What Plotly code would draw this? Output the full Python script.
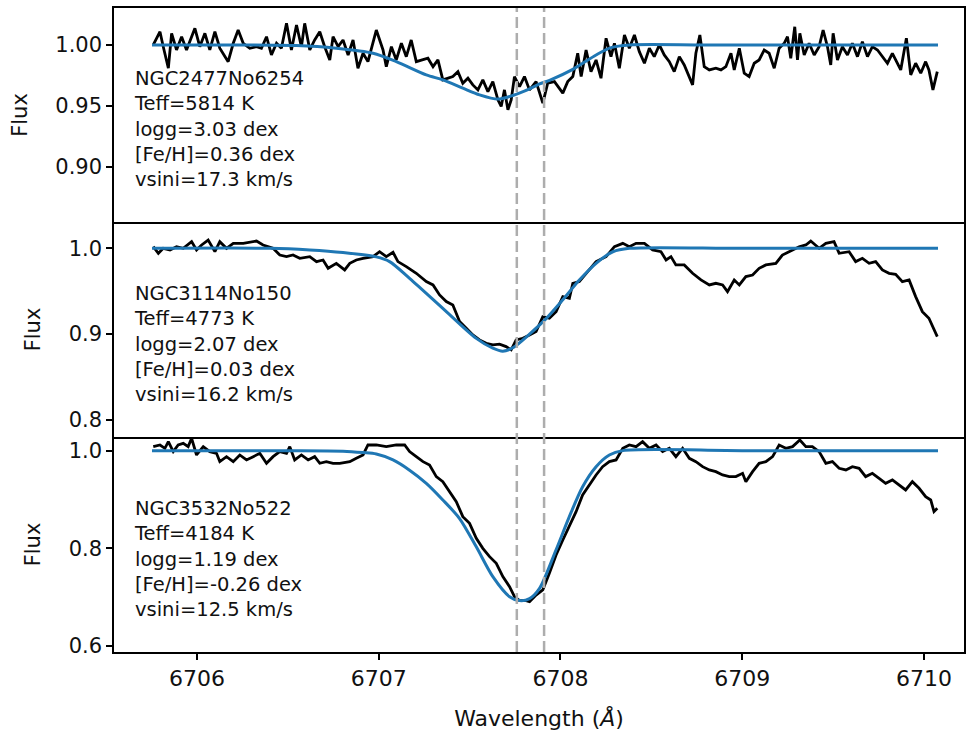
import plotly.graph_objects as go
from plotly.subplots import make_subplots

# ---------------- data ----------------
star_names = ["NGC2477No6254", "NGC3114No150", "NGC3532No522"]
teff = [5814, 4773, 4184]
logg = [3.03, 2.07, 1.19]
feh = [0.36, 0.03, -0.26]
vsini = [17.3, 16.2, 12.5]
li_lines = [6707.76, 6707.91]
x_ticks = [6706, 6707, 6708, 6709, 6710]
y_ticks_top = [0.90, 0.95, 1.00]
y_ticks_mid = [0.8, 0.9, 1.0]
y_ticks_bot = [0.6, 0.8, 1.0]

# NGC2477No6254 observed
wl_obs_1 = [6705.760, 6705.797, 6705.815, 6705.843, 6705.861, 6705.888, 6705.916, 6705.943, 6705.971, 6705.989,
            6706.016, 6706.044, 6706.071, 6706.099, 6706.126, 6706.172, 6706.200, 6706.227, 6706.255, 6706.291,
            6706.328, 6706.355, 6706.383, 6706.410, 6706.438, 6706.465, 6706.493, 6706.520, 6706.548, 6706.575,
            6706.593, 6706.621, 6706.648, 6706.676, 6706.703, 6706.731, 6706.749, 6706.777, 6706.804, 6706.832,
            6706.859, 6706.886, 6706.914, 6706.941, 6706.987, 6707.024, 6707.042, 6707.070, 6707.097, 6707.125,
            6707.152, 6707.179, 6707.207, 6707.244, 6707.271, 6707.299, 6707.326, 6707.353, 6707.381, 6707.408,
            6707.436, 6707.463, 6707.491, 6707.518, 6707.546, 6707.573, 6707.601, 6707.628, 6707.656, 6707.674,
            6707.692, 6707.711, 6707.729, 6707.747, 6707.775, 6707.802, 6707.830, 6707.866, 6707.903, 6707.930,
            6707.967, 6708.013, 6708.040, 6708.068, 6708.095, 6708.114, 6708.141, 6708.168, 6708.196, 6708.223,
            6708.251, 6708.278, 6708.297, 6708.324, 6708.352, 6708.379, 6708.407, 6708.434, 6708.462, 6708.489,
            6708.516, 6708.544, 6708.571, 6708.599, 6708.626, 6708.654, 6708.681, 6708.709, 6708.727, 6708.745,
            6708.767, 6708.791, 6708.819, 6708.855, 6708.883, 6708.910, 6708.938, 6708.956, 6708.984, 6709.011,
            6709.038, 6709.066, 6709.093, 6709.121, 6709.148, 6709.176, 6709.203, 6709.231, 6709.249, 6709.267,
            6709.289, 6709.304, 6709.317, 6709.341, 6709.368, 6709.396, 6709.423, 6709.445, 6709.469, 6709.487,
            6709.500, 6709.524, 6709.551, 6709.579, 6709.606, 6709.634, 6709.661, 6709.689, 6709.716, 6709.744,
            6709.771, 6709.799, 6709.826, 6709.853, 6709.872, 6709.903, 6709.927, 6709.954, 6709.982, 6710.009,
            6710.027, 6710.049, 6710.073]
fl_obs_1 = [1.0000, 1.0109, 0.9986, 0.9809, 1.0096, 0.9959, 1.0068, 0.9959, 1.0068, 1.0137,
            0.9986, 1.0096, 0.9959, 1.0109, 0.9973, 0.9863, 1.0014, 1.0123, 1.0014, 0.9973,
            0.9986, 0.9973, 1.0068, 0.9918, 1.0014, 0.9973, 1.0178, 0.9959, 1.0164, 0.9986,
            1.0178, 0.9959, 1.0041, 1.0109, 0.9986, 0.9877, 1.0068, 0.9986, 1.0041, 0.9918,
            1.0041, 0.9809, 0.9932, 0.9863, 1.0123, 0.9959, 0.9822, 0.9986, 0.9877, 1.0014,
            0.9904, 1.0041, 0.9863, 0.9877, 0.9891, 0.9822, 0.9877, 0.9713, 0.9727, 0.9740,
            0.9781, 0.9686, 0.9727, 0.9672, 0.9631, 0.9713, 0.9617, 0.9699, 0.9549, 0.9495,
            0.9631, 0.9467, 0.9549, 0.9740, 0.9658, 0.9740, 0.9631, 0.9699, 0.9522, 0.9686,
            0.9699, 0.9604, 0.9699, 0.9740, 0.9932, 0.9740, 0.9959, 0.9781, 0.9877, 0.9727,
            1.0055, 0.9904, 1.0014, 0.9809, 1.0082, 0.9973, 1.0082, 0.9945, 0.9850, 0.9973,
            0.9904, 1.0000, 0.9918, 0.9863, 0.9781, 0.9904, 0.9836, 0.9727, 0.9672, 0.9932,
            1.0082, 0.9822, 0.9795, 0.9809, 0.9795, 0.9822, 0.9932, 0.9795, 0.9973, 0.9768,
            0.9740, 0.9850, 0.9877, 0.9959, 0.9932, 0.9809, 0.9973, 1.0014, 1.0068, 0.9891,
            1.0150, 0.9877, 1.0096, 0.9918, 1.0014, 0.9918, 0.9986, 1.0123, 0.9986, 0.9836,
            1.0096, 0.9877, 0.9986, 0.9918, 1.0014, 0.9904, 1.0027, 0.9904, 0.9986, 0.9959,
            0.9904, 0.9850, 0.9932, 0.9850, 0.9795, 1.0055, 0.9754, 0.9850, 0.9768, 0.9863,
            0.9795, 0.9631, 0.9781]
# NGC2477No6254 model
wl_mod_1 = [6705.753, 6706.200, 6706.548, 6706.767, 6706.969, 6707.097, 6707.262, 6707.353, 6707.463, 6707.555,
            6707.656, 6707.738, 6707.830, 6707.885, 6707.940, 6708.068, 6708.196, 6708.278, 6708.380, 6708.800,
            6709.500, 6710.077]
fl_mod_1 = [1.0000, 1.0000, 0.9995, 0.9973, 0.9932, 0.9863, 0.9754, 0.9713, 0.9645, 0.9590,
            0.9555, 0.9585, 0.9640, 0.9680, 0.9710, 0.9800, 0.9918, 0.9978, 1.0000, 1.0000,
            1.0000, 1.0000]

# NGC3114No150 observed
wl_obs_2 = [6705.760, 6705.788, 6705.815, 6705.852, 6705.888, 6705.925, 6705.971, 6705.998, 6706.026, 6706.062,
            6706.099, 6706.126, 6706.163, 6706.200, 6706.255, 6706.328, 6706.364, 6706.419, 6706.456, 6706.493,
            6706.529, 6706.566, 6706.621, 6706.658, 6706.694, 6706.722, 6706.767, 6706.813, 6706.841, 6706.877,
            6706.914, 6706.969, 6707.005, 6707.042, 6707.079, 6707.106, 6707.152, 6707.207, 6707.262, 6707.299,
            6707.335, 6707.372, 6707.408, 6707.445, 6707.482, 6707.518, 6707.555, 6707.592, 6707.628, 6707.665,
            6707.701, 6707.729, 6707.756, 6707.793, 6707.830, 6707.866, 6707.903, 6707.939, 6707.976, 6708.013,
            6708.049, 6708.068, 6708.104, 6708.141, 6708.196, 6708.251, 6708.297, 6708.343, 6708.379, 6708.416,
            6708.462, 6708.507, 6708.553, 6708.581, 6708.608, 6708.635, 6708.681, 6708.727, 6708.773, 6708.819,
            6708.855, 6708.892, 6708.919, 6708.956, 6708.984, 6709.020, 6709.057, 6709.093, 6709.130, 6709.185,
            6709.221, 6709.277, 6709.313, 6709.350, 6709.377, 6709.423, 6709.460, 6709.505, 6709.533, 6709.588,
            6709.624, 6709.661, 6709.698, 6709.734, 6709.771, 6709.808, 6709.844, 6709.881, 6709.918, 6709.954,
            6709.991, 6710.027, 6710.073]
fl_obs_2 = [1.0019, 0.9942, 1.0000, 0.9981, 1.0019, 1.0000, 1.0078, 0.9981, 1.0039, 1.0097,
            0.9961, 1.0078, 1.0000, 1.0058, 1.0058, 1.0085, 1.0039, 1.0000, 0.9922, 0.9903,
            0.9922, 0.9883, 0.9903, 0.9845, 0.9864, 0.9767, 0.9825, 0.9748, 0.9825, 0.9864,
            0.9883, 0.9903, 0.9961, 0.9903, 0.9953, 0.9845, 0.9786, 0.9709, 0.9612, 0.9573,
            0.9456, 0.9379, 0.9340, 0.9146, 0.9068, 0.8990, 0.8932, 0.8893, 0.8874, 0.8882,
            0.8854, 0.8816, 0.8932, 0.8951, 0.8990, 0.9029, 0.9204, 0.9184, 0.9262, 0.9437,
            0.9417, 0.9592, 0.9612, 0.9709, 0.9845, 0.9903, 1.0019, 1.0058, 1.0019, 1.0058,
            1.0058, 0.9981, 0.9961, 0.9864, 0.9903, 0.9806, 0.9806, 0.9709, 0.9631, 0.9573,
            0.9592, 0.9573, 0.9495, 0.9631, 0.9573, 0.9670, 0.9689, 0.9767, 0.9806, 0.9825,
            0.9922, 0.9981, 1.0019, 1.0039, 1.0085, 1.0000, 1.0058, 1.0078, 0.9942, 0.9961,
            0.9845, 0.9883, 0.9825, 0.9845, 0.9748, 0.9709, 0.9697, 0.9612, 0.9631, 0.9437,
            0.9262, 0.9184, 0.8971]
# NGC3114No150 model
wl_mod_2 = [6705.753, 6706.401, 6706.621, 6706.804, 6706.987, 6707.060, 6707.170, 6707.353, 6707.537, 6707.628,
            6707.683, 6707.738, 6707.830, 6707.921, 6708.013, 6708.104, 6708.196, 6708.288, 6708.379, 6709.000,
            6710.077]
fl_mod_2 = [1.0000, 1.0000, 0.9980, 0.9950, 0.9900, 0.9845, 0.9650, 0.9300, 0.8950, 0.8835,
            0.8800, 0.8840, 0.9000, 0.9180, 0.9400, 0.9630, 0.9825, 0.9960, 1.0000, 1.0000,
            1.0000]

# NGC3532No522 observed
wl_obs_3 = [6705.760, 6705.797, 6705.824, 6705.843, 6705.870, 6705.897, 6705.925, 6705.952, 6705.971, 6705.998,
            6706.035, 6706.071, 6706.108, 6706.126, 6706.163, 6706.200, 6706.236, 6706.273, 6706.310, 6706.346,
            6706.383, 6706.419, 6706.456, 6706.493, 6706.511, 6706.538, 6706.575, 6706.612, 6706.648, 6706.676,
            6706.712, 6706.749, 6706.786, 6706.841, 6706.877, 6706.914, 6706.941, 6706.987, 6707.042, 6707.097,
            6707.143, 6707.170, 6707.207, 6707.244, 6707.280, 6707.317, 6707.353, 6707.390, 6707.427, 6707.463,
            6707.500, 6707.537, 6707.573, 6707.610, 6707.647, 6707.683, 6707.720, 6707.747, 6707.775, 6707.811,
            6707.830, 6707.866, 6707.903, 6707.939, 6707.976, 6708.013, 6708.049, 6708.086, 6708.122, 6708.159,
            6708.196, 6708.232, 6708.269, 6708.306, 6708.343, 6708.379, 6708.416, 6708.452, 6708.489, 6708.526,
            6708.562, 6708.599, 6708.635, 6708.672, 6708.709, 6708.745, 6708.782, 6708.819, 6708.855, 6708.892,
            6708.929, 6708.965, 6709.002, 6709.020, 6709.057, 6709.093, 6709.130, 6709.167, 6709.203, 6709.240,
            6709.277, 6709.317, 6709.350, 6709.386, 6709.423, 6709.460, 6709.496, 6709.533, 6709.570, 6709.606,
            6709.643, 6709.679, 6709.716, 6709.753, 6709.789, 6709.826, 6709.863, 6709.899, 6709.936, 6709.973,
            6710.009, 6710.037, 6710.055, 6710.073]
fl_obs_3 = [1.0082, 1.0116, 1.0048, 1.0184, 0.9980, 1.0116, 1.0150, 1.0082, 1.0253, 0.9911,
            1.0082, 0.9980, 0.9945, 0.9775, 0.9877, 0.9775, 0.9911, 0.9809, 0.9877, 0.9945,
            0.9741, 0.9877, 0.9980, 0.9945, 1.0082, 0.9809, 0.9911, 0.9809, 0.9877, 0.9741,
            0.9775, 0.9741, 0.9741, 0.9775, 0.9843, 0.9911, 1.0116, 1.0116, 1.0082, 1.0116,
            1.0116, 0.9980, 0.9877, 0.9775, 0.9706, 0.9468, 0.9365, 0.9160, 0.8956, 0.8648,
            0.8512, 0.8205, 0.8000, 0.7829, 0.7693, 0.7420, 0.7215, 0.7010, 0.6928, 0.6928,
            0.6908, 0.7044, 0.7147, 0.7488, 0.7863, 0.8171, 0.8444, 0.8751, 0.9092, 0.9297,
            0.9502, 0.9672, 0.9775, 0.9809, 1.0048, 1.0116, 1.0082, 1.0184, 1.0048, 1.0116,
            0.9980, 1.0048, 0.9877, 1.0048, 0.9843, 0.9775, 0.9672, 0.9604, 0.9570, 0.9502,
            0.9468, 0.9468, 0.9536, 0.9365, 0.9570, 0.9741, 0.9775, 0.9877, 1.0116, 1.0048,
            1.0082, 1.0218, 1.0082, 1.0082, 0.9980, 0.9741, 0.9775, 0.9638, 0.9604, 0.9672,
            0.9638, 0.9468, 0.9536, 0.9433, 0.9331, 0.9399, 0.9297, 0.9195, 0.9365, 0.9229,
            0.9058, 0.8990, 0.8751, 0.8819]
# NGC3532No522 model
wl_mod_3 = [6705.753, 6706.500, 6706.804, 6706.914, 6706.987, 6707.079, 6707.170, 6707.262, 6707.353, 6707.445,
            6707.537, 6707.628, 6707.720, 6707.775, 6707.830, 6707.885, 6707.976, 6708.049, 6708.122, 6708.196,
            6708.269, 6708.343, 6709.000, 6710.077]
fl_mod_3 = [1.0000, 1.0000, 0.9990, 0.9960, 0.9930, 0.9810, 0.9600, 0.9330, 0.8990, 0.8610,
            0.8030, 0.7420, 0.7010, 0.6930, 0.6970, 0.7180, 0.7970, 0.8650, 0.9260, 0.9670,
            0.9910, 1.0000, 1.0000, 1.0000]

# ---------------- figure ----------------
FONT = "DejaVu Sans"
TXT = "#111111"
fig = make_subplots(rows=3, cols=1, shared_xaxes=True, vertical_spacing=0)

obs = [(wl_obs_1, fl_obs_1), (wl_obs_2, fl_obs_2), (wl_obs_3, fl_obs_3)]
mods = [(wl_mod_1, fl_mod_1), (wl_mod_2, fl_mod_2), (wl_mod_3, fl_mod_3)]
for i in range(3):
    fig.add_trace(go.Scatter(x=obs[i][0], y=obs[i][1], mode="lines",
                             line=dict(color="black", width=2.8), showlegend=False), row=i + 1, col=1)
    fig.add_trace(go.Scatter(x=mods[i][0], y=mods[i][1], mode="lines",
                             line=dict(color="#1f77b4", width=3, shape="spline", smoothing=0.8),
                             showlegend=False), row=i + 1, col=1)

domains = [[0.6677, 1.0], [0.3339, 0.6677], [0.0, 0.3339]]
yranges = [[0.8545, 1.0304], [0.780, 1.0307], [0.5877, 1.028]]
yticks = [y_ticks_top, y_ticks_mid, y_ticks_bot]
yfmt = [".2f", ".1f", ".1f"]
xrange_ = [6705.544, 6710.22]

for i in range(3):
    sfx = "" if i == 0 else str(i + 1)
    fig.layout["yaxis" + sfx].update(
        domain=domains[i], range=yranges[i], tickvals=yticks[i], tickformat=yfmt[i],
        showline=True, linecolor="black", linewidth=1.5, mirror=True,
        ticks="outside", ticklen=6, tickwidth=1.5, tickcolor="black",
        showgrid=False, zeroline=False,
        tickfont=dict(family=FONT, size=21, color=TXT),
        title=dict(text="Flux", font=dict(family=FONT, size=21, color=TXT), standoff=22),
    )
    fig.layout["xaxis" + sfx].update(
        range=xrange_, showline=True, linecolor="black", linewidth=1.5,
        mirror=(i == 0), showgrid=False, zeroline=False,
    )
    if i < 2:
        fig.layout["xaxis" + sfx].update(showticklabels=False, ticks="")
    else:
        fig.layout["xaxis" + sfx].update(
            tickvals=x_ticks, ticks="outside", ticklen=6, tickwidth=1.5, tickcolor="black",
            tickfont=dict(family=FONT, size=22, color=TXT),
            title=dict(text="Wavelength (<i>Å</i>)", font=dict(family=FONT, size=22, color=TXT), standoff=20),
        )
    label = "<br>".join([
        star_names[i],
        f"Teff={teff[i]} K",
        f"logg={logg[i]:.2f} dex",
        f"[Fe/H]={feh[i]:.2f} dex",
        f"vsini={vsini[i]:.1f} km/s",
    ])
    fig.add_annotation(text=label, xref=f"x{sfx} domain", yref=f"y{sfx} domain",
                       x=0.021, y=0.434, xanchor="left", yanchor="middle", align="left",
                       showarrow=False, font=dict(family=FONT, size=19.5, color=TXT))

for v in li_lines:
    fig.add_shape(type="line", xref="x3", yref="paper", x0=v, x1=v, y0=0, y1=1,
                  line=dict(color="#adadad", width=2.5, dash="11px,5px"), layer="above")

fig.update_layout(width=967, height=738, margin=dict(l=114, r=1, t=8, b=86),
                  paper_bgcolor="white", plot_bgcolor="white", showlegend=False)

fig.write_html("out.html")
